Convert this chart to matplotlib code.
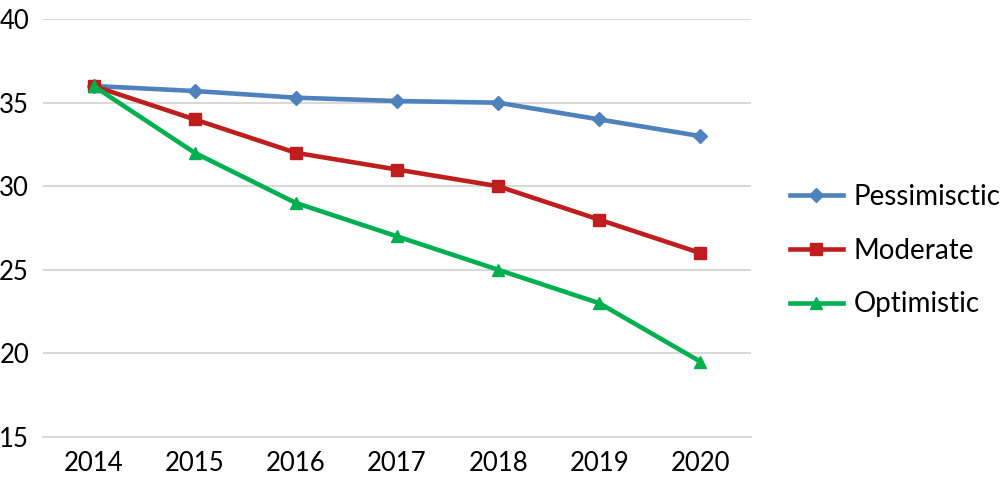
import matplotlib
matplotlib.use("Agg")
import matplotlib.pyplot as plt

years = ["2014", "2015", "2016", "2017", "2018", "2019", "2020"]
pessimistic = [36, 35.7, 35.3, 35.1, 35, 34, 33]
moderate = [36, 34, 32, 31, 30, 28, 26]
optimistic = [36, 32, 29, 27, 25, 23, 19.5]

plt.rcParams['font.family'] = ['Lato', 'DejaVu Sans']

fig = plt.figure(figsize=(10, 4.79), dpi=100)
ax = fig.add_axes([0.043, 0.088, 0.708, 0.872])

x = range(len(years))
ax.plot(x, pessimistic, color='#4F81BD', lw=3.3, marker='D', ms=7, label='Pessimisctic')
ax.plot(x, moderate, color='#BE1E1E', lw=3.3, marker='s', ms=9, label='Moderate')
ax.plot(x, optimistic, color='#00B050', lw=3.3, marker='^', ms=9, label='Optimistic')

ax.set_xlim(-0.5, 6.5)
ax.set_ylim(15, 40)
ax.set_yticks([15, 20, 25, 30, 35, 40])
ax.set_xticks(list(x))
ax.set_xticklabels(years)
ax.grid(axis='y', color='#D9D9D9', lw=1.5)
ax.set_axisbelow(True)
for s in ['top', 'right', 'left']:
    ax.spines[s].set_visible(False)
ax.spines['bottom'].set_color('#D9D9D9')
ax.spines['bottom'].set_linewidth(1.5)
ax.tick_params(axis='both', length=0, labelsize=18.5, colors='#000000')
ax.tick_params(axis='x', pad=10)
ax.tick_params(axis='y', pad=10)

ax.legend(loc='center left', bbox_to_anchor=(1.055, 0.446), frameon=False,
          borderpad=0, borderaxespad=0,
          fontsize=20, handlelength=1.9, labelspacing=1.0, handletextpad=0.4)

fig.savefig('out.png', dpi=100)
